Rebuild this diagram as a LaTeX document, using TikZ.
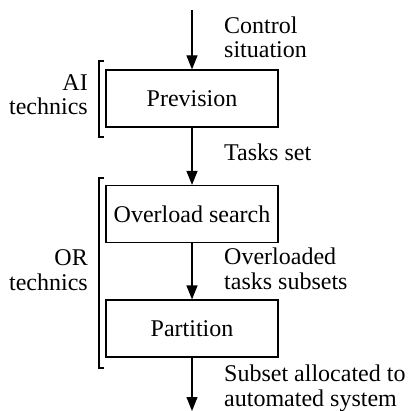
\documentclass[tikz,border=0pt]{standalone}
\usepackage{fontspec}
\setmainfont{Liberation Serif}
\usetikzlibrary{arrows.meta}
\begin{document}
\begin{tikzpicture}[x=1pt,y=-1pt,
  txt/.style={font=\fontsize{24}{24.5}\selectfont},
  box/.style={draw, line width=1.2pt, minimum width=172pt, minimum height=57pt, inner sep=0pt, txt},
  flow/.style={-{Triangle[length=14pt,width=11pt]}, line width=1.2pt},
  brk/.style={line width=1.2pt},
  lbl/.style={align=left, anchor=base west, inner sep=0pt, txt},
  rlbl/.style={align=right, anchor=base east, inner sep=0pt, txt}]
\useasboundingbox (0,0) rectangle (409,411);
\node[box] (prev) at (192,98.5) {Prevision};
\node[box] (over) at (192,214) {Overload search};
\node[box] (part) at (192,328.5) {Partition};
\coordinate (in) at (192,10);
\coordinate (out) at (192,411);
\draw[flow] (in) -- (prev);
\draw[flow] (prev) -- (over);
\draw[flow] (over) -- (part);
\draw[flow] (part) -- (out);
\draw[brk] (104,61) -- (99,61) -- (99,137) -- (104,137);
\draw[brk] (104,178) -- (99,178) -- (99,368) -- (104,368);
\node[lbl] (ctl) at (224,58) {Control\\situation};
\node[lbl] (tasks) at (224,161) {Tasks set};
\node[lbl] (ovl) at (224,289) {Overloaded\\tasks subsets};
\node[lbl] (sub) at (224,406) {Subset allocated to\\automated system};
\node[rlbl] (ai) at (88,115) {AI\\technics};
\node[rlbl] (or) at (88,290) {OR\\technics};
\end{tikzpicture}
\end{document}
